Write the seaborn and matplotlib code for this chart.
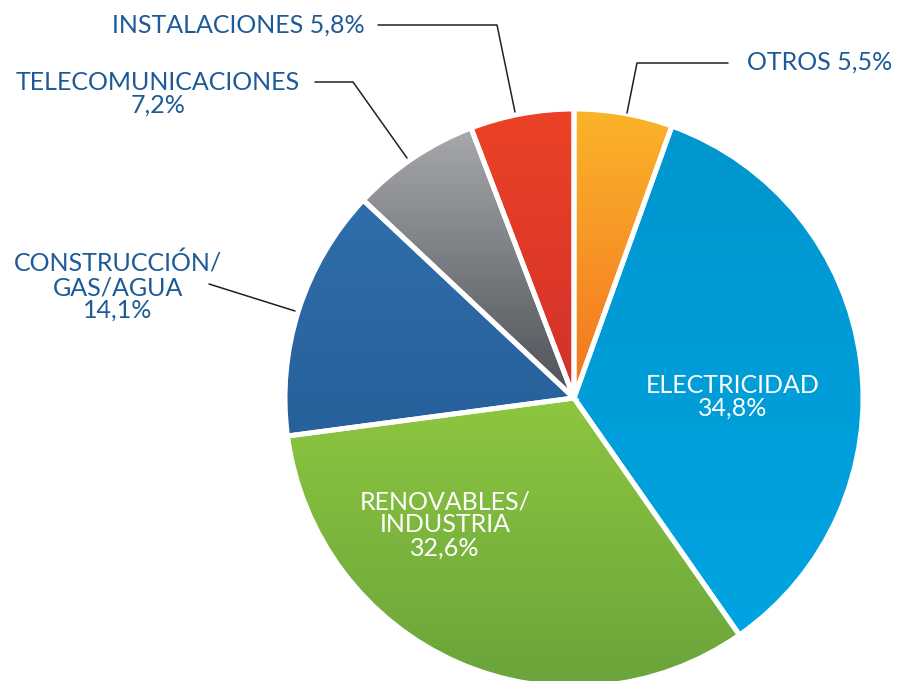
import numpy as np
import matplotlib
matplotlib.use('Agg')
import matplotlib.pyplot as plt
import seaborn as sns

sns.set_theme(style='white')
plt.rcParams['font.family'] = ['Lato', 'DejaVu Sans']

# Data
sectors = ['OTROS', 'ELECTRICIDAD', 'RENOVABLES/\nINDUSTRIA',
           'CONSTRUCCIÓN/\nGAS/AGUA', 'TELECOMUNICACIONES', 'INSTALACIONES']
shares = [5.5, 34.8, 32.6, 14.1, 7.2, 5.8]
top_colors = ['#fbb42a', '#0096ce', '#8dc63f', '#2f6eab', '#a7a9ac', '#ec4326']
bottom_colors = ['#f37421', '#00a4e2', '#6aa43b', '#27609b', '#4d5056', '#d2302b']

def pct(v):
    return f'{v:.1f}'.replace('.', ',') + '%'

W, H = 900, 681
fig = plt.figure(figsize=(9, 6.81), dpi=100)
ax = fig.add_axes([0, 0, 1, 1])

cx, cy, R = 574, H - 398, 289
wedges, _ = ax.pie(shares, startangle=90, counterclock=False,
                   center=(cx, cy), radius=R,
                   wedgeprops=dict(edgecolor='white', linewidth=3.6))

grad = np.linspace(0, 1, 256).reshape(-1, 1)
for w, c0, c1 in zip(wedges, top_colors, bottom_colors):
    ext = w.get_path().get_extents()
    cmap = sns.blend_palette([c0, c1], n_colors=256, as_cmap=True)
    im = ax.imshow(grad, cmap=cmap, origin='upper', aspect='auto',
                   extent=(ext.x0, ext.x1, ext.y0, ext.y1), zorder=2)
    im.set_clip_path(w)
    w.set_facecolor('none')
    w.set_zorder(3)

blue = '#1d5a97'
fs = 18
ls = 1.0
line_kw = dict(color='#231f20', lw=1.1, zorder=4)

def yy(y):
    return H - y

# OTROS
ax.text(747, yy(62), f'{sectors[0]} {pct(shares[0])}', color=blue,
        fontsize=fs, ha='left', va='center')
ax.plot([728, 637, 627], [yy(63), yy(63), yy(113)], **line_kw)

# INSTALACIONES
ax.text(365, yy(25), f'{sectors[5]} {pct(shares[5])}', color=blue,
        fontsize=fs, ha='right', va='center')
ax.plot([378, 497, 515], [yy(25), yy(25), yy(112)], **line_kw)

# TELECOMUNICACIONES
ax.text(158, yy(94), f'{sectors[4]}\n{pct(shares[4])}', color=blue,
        fontsize=fs, ha='center', va='center', linespacing=ls)
ax.plot([315, 353, 407], [yy(82), yy(82), yy(158)], **line_kw)

# CONSTRUCCIÓN
ax.text(118, yy(287), f'{sectors[3]}\n{pct(shares[3])}', color=blue,
        fontsize=fs, ha='center', va='center', linespacing=ls)
ax.plot([209, 295], [yy(284), yy(311)], **line_kw)

# inside labels
ax.text(733, yy(397), f'{sectors[1]}\n{pct(shares[1])}', color='white',
        fontsize=fs, ha='center', va='center', linespacing=ls, zorder=5)
ax.text(445, yy(525), f'{sectors[2]}\n{pct(shares[2])}', color='white',
        fontsize=fs, ha='center', va='center', linespacing=ls, zorder=5)

ax.set_xlim(0, W)
ax.set_ylim(0, H)
ax.set_axis_off()

fig.savefig('out.png', dpi=100)
